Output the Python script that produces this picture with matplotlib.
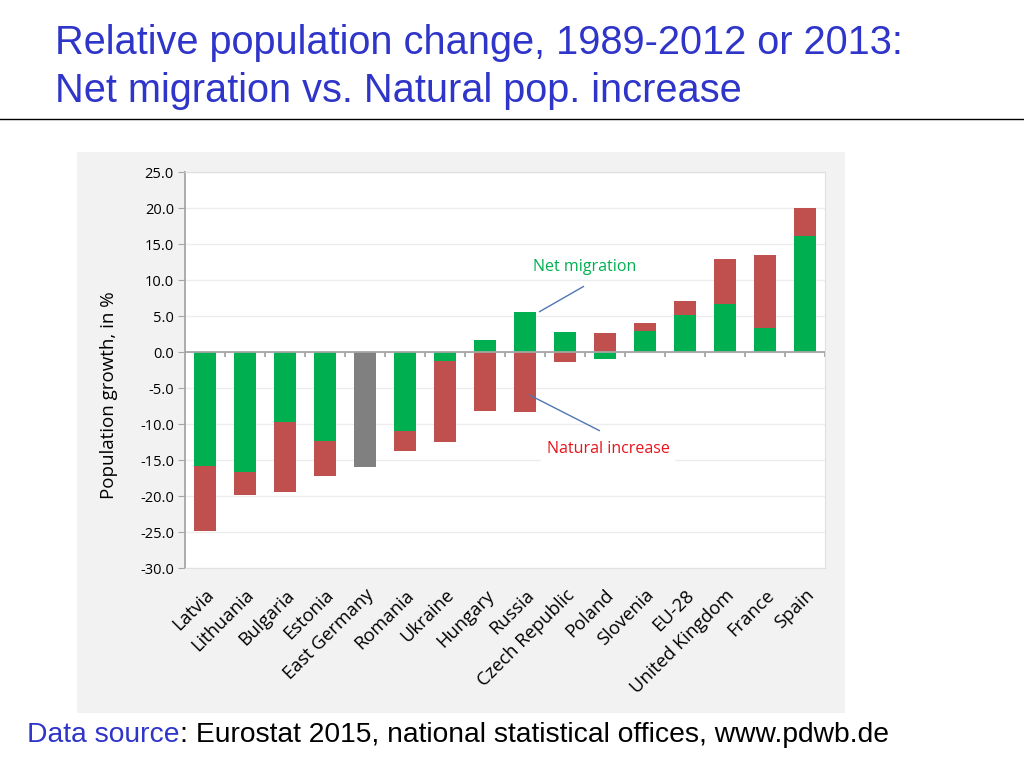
import matplotlib
matplotlib.use("Agg")
import matplotlib.pyplot as plt
from matplotlib.patches import Rectangle
import numpy as np

categories = ["Latvia", "Lithuania", "Bulgaria", "Estonia", "East Germany", "Romania",
              "Ukraine", "Hungary", "Russia", "Czech Republic", "Poland", "Slovenia",
              "EU-28", "United Kingdom", "France", "Spain"]
net_migration = [-15.8, -16.7, -9.7, -12.3, None, -11.0, -1.25, 1.7, 5.6, 2.8, -1.0, 2.9,
                 5.1, 6.6, 3.3, 16.1]
natural_increase = [-9.1, -3.2, -9.7, -4.9, None, -2.7, -11.25, -8.2, -8.4, -1.35, 2.7, 1.1,
                    2.0, 6.3, 10.2, 3.9]
total_only = [None, None, None, None, -16.0, None, None, None, None, None, None, None,
              None, None, None, None]
yticks = [25.0, 20.0, 15.0, 10.0, 5.0, 0.0, -5.0, -10.0, -15.0, -20.0, -25.0, -30.0]

GREEN = "#00B050"
RED = "#C0504D"
GREY = "#808080"
BLUE = "#2E35C8"

fig = plt.figure(figsize=(10.24, 7.68), dpi=100)
W, H = 1024, 768

def fx(px):
    return px / W

def fy(py):
    return 1 - py / H

# title
fig.text(fx(55), fy(43), "Relative population change, 1989-2012 or 2013:", color=BLUE,
         fontsize=28.6, family="Liberation Sans", va="center", ha="left")
fig.text(fx(55), fy(91), "Net migration vs. Natural pop. increase", color=BLUE,
         fontsize=28.6, family="Liberation Sans", va="center", ha="left")
fig.add_artist(plt.Line2D([0, 1], [fy(119), fy(119)], color="black", lw=1.0,
                          transform=fig.transFigure))

# gray panel
fig.add_artist(Rectangle((fx(77), fy(713)), fx(845 - 77), (713 - 152) / H,
                         transform=fig.transFigure, facecolor="#F2F2F2",
                         edgecolor="none", zorder=0))

ax = fig.add_axes([fx(185), fy(568), fx(825 - 185), (568 - 172) / H])
ax.set_facecolor("white")
x = np.arange(len(categories))
width = 0.53

for i in range(len(categories)):
    nm = net_migration[i]
    ni = natural_increase[i]
    tot = total_only[i]
    if tot is not None:
        ax.bar(i, tot, width, color=GREY, zorder=3)
        continue
    pos_base, neg_base = 0.0, 0.0
    for val, col in ((nm, GREEN), (ni, RED)):
        if val >= 0:
            ax.bar(i, val, width, bottom=pos_base, color=col, zorder=3)
            pos_base += val
        else:
            ax.bar(i, val, width, bottom=neg_base, color=col, zorder=3)
            neg_base += val

ax.set_xlim(-0.5, len(categories) - 0.5)
ax.set_ylim(-30, 25)
ax.set_yticks(yticks)
ax.set_yticklabels([f"{v:.1f}" for v in yticks], fontsize=10.5, family="Open Sans")
ax.yaxis.grid(True, color="#EDEDED", lw=1.0, zorder=0)
ax.set_axisbelow(True)
ax.tick_params(axis="y", length=5, color="#A6A6A6", pad=3)
for s in ("top", "right", "bottom"):
    ax.spines[s].set_color("#E0E0E0")
ax.spines["left"].set_color("#A6A6A6")
ax.spines["left"].set_linewidth(1.3)

# zero axis line with category-boundary ticks
ax.axhline(0, color="#A6A6A6", lw=1.3, zorder=4)
ax.vlines(np.arange(len(categories)) + 0.5, -0.7, 0, color="#A6A6A6", lw=1.3, zorder=4)

ax.set_xticks(x)
ax.set_xticklabels(categories, rotation=45, ha="right", rotation_mode="anchor",
                   fontsize=13.2, family="Open Sans")
ax.tick_params(axis="x", length=0, pad=13)
ax.set_ylabel("Population growth, in %", fontsize=13.5, family="Open Sans")
ax.yaxis.set_label_coords(-0.105, 0.437)

# annotations
ax.annotate("", xy=(8.3, 5.4), xytext=(9.525, 9.3),
            arrowprops=dict(arrowstyle="-", color="#4F76B5", lw=1.0), zorder=5)
ax.text(9.5, 11.8, "Net migration", color=GREEN, fontsize=11.5, family="Open Sans",
        ha="center", va="center", zorder=5)
ax.annotate("", xy=(8.05, -5.8), xytext=(9.925, -11.1),
            arrowprops=dict(arrowstyle="-", color="#4F76B5", lw=1.0), zorder=5)
ax.text(10.075, -13.5, "Natural increase", color="#E8141B", fontsize=11.5, family="Open Sans",
        ha="center", va="center", zorder=5,
        bbox=dict(facecolor="white", edgecolor="none", pad=4))

# footer
t1 = fig.text(fx(27), fy(735), "Data source", color=BLUE, fontsize=20.3,
              family="Liberation Sans", va="center", ha="left")
fig.canvas.draw()
bb = t1.get_window_extent()
fig.text(bb.x1 / W, fy(735), ": Eurostat 2015, national statistical offices, www.pdwb.de",
         color="black", fontsize=20.3, family="Liberation Sans", va="center", ha="left")

fig.savefig("out.png", dpi=100)
